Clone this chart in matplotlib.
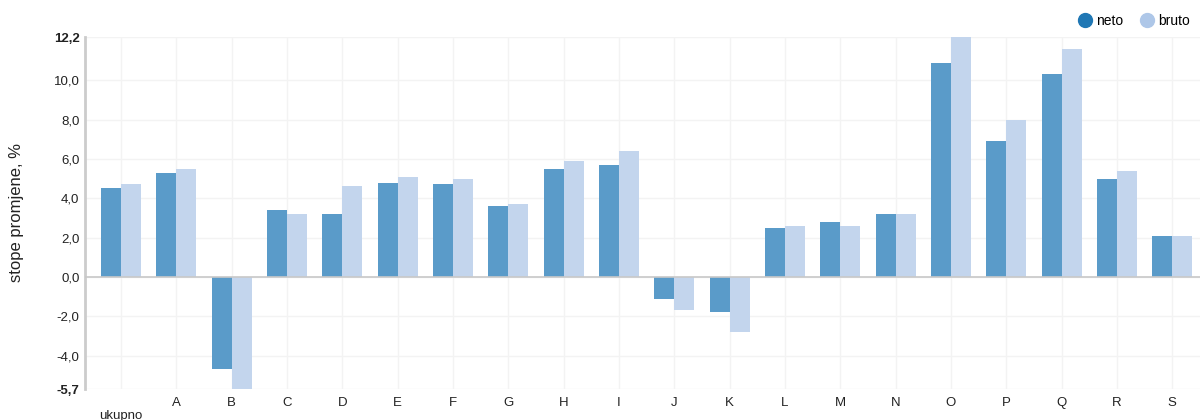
import matplotlib
matplotlib.use("Agg")
import matplotlib.pyplot as plt
from matplotlib.lines import Line2D
import numpy as np

plt.rcParams['font.family'] = ['Liberation Sans', 'DejaVu Sans']

categories = ["ukupno", "A", "B", "C", "D", "E", "F", "G", "H", "I", "J", "K",
              "L", "M", "N", "O", "P", "Q", "R", "S"]
neto = [4.5, 5.3, -4.7, 3.4, 3.2, 4.8, 4.7, 3.6, 5.5, 5.7, -1.1, -1.8,
        2.5, 2.8, 3.2, 10.9, 6.9, 10.3, 5.0, 2.1]
bruto = [4.7, 5.5, -5.7, 3.2, 4.6, 5.1, 5.0, 3.7, 5.9, 6.4, -1.7, -2.8,
         2.6, 2.6, 3.2, 12.2, 8.0, 11.6, 5.4, 2.1]
yticks = [-5.7, -4.0, -2.0, 0.0, 2.0, 4.0, 6.0, 8.0, 10.0, 12.2]

c_neto = '#5a9bc9'
c_bruto = '#c3d5ed'

fig = plt.figure(figsize=(12, 4.2), dpi=100)
ax = fig.add_axes([85/1200, (420-389)/420, 1 - 85/1200, (389-37)/420])

x = np.arange(len(categories))
w = 0.36
ax.bar(x - w/2, neto, width=w, color=c_neto, zorder=3)
ax.bar(x + w/2, bruto, width=w, color=c_bruto, zorder=3)

ax.set_xlim(-0.65, len(categories) - 0.5)
ax.set_ylim(-5.7, 12.2)
ax.set_yticks(yticks)
labels = [f"{v:.1f}".replace('.', ',') for v in yticks]
ax.set_yticklabels(labels, fontsize=9.5, color='#222222')
for t, v in zip(ax.get_yticklabels(), yticks):
    if v in (-5.7, 12.2):
        t.set_fontweight('bold')
ax.set_xticks(x)
ax.set_xticklabels(categories, fontsize=9.5, color='#222222')
for t in ax.get_xticklabels():
    if t.get_text() == 'ukupno':
        t.set_y(-0.035)
ax.tick_params(axis='both', length=0)
ax.tick_params(axis='x', pad=6)
ax.tick_params(axis='y', pad=4)

ax.grid(True, color='#f3f3f3', linewidth=1, zorder=0)
ax.axhline(0, color='#c8c8c8', linewidth=1.2, zorder=4)
for s in ['top', 'right', 'bottom']:
    ax.spines[s].set_visible(False)
ax.spines['left'].set_color('#cccccc')
ax.spines['left'].set_linewidth(2)

ax.set_ylabel("stope promjene, %", fontsize=12, color='#222222', labelpad=21)

handles = [Line2D([], [], marker='o', linestyle='none', markersize=10, color='#1f77b4'),
           Line2D([], [], marker='o', linestyle='none', markersize=10, color='#aec7e8')]
fig.legend(handles, ['neto', 'bruto'], loc='upper right', bbox_to_anchor=(1.0, 0.99),
           ncol=2, frameon=False, fontsize=10, handletextpad=0.05, columnspacing=1.0,
           handlelength=1.5, borderaxespad=0.3)

fig.savefig("out.png", dpi=100)
